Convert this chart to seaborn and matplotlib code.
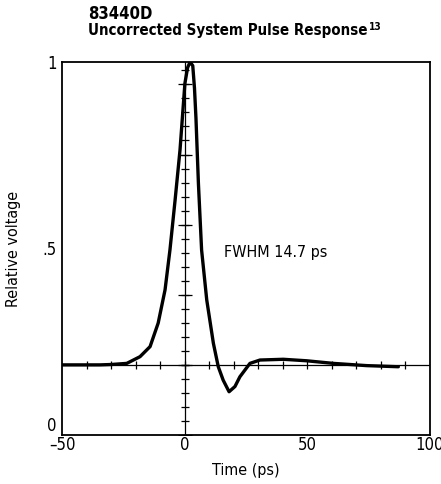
import numpy as np
import pandas as pd
import matplotlib
matplotlib.use("Agg")
import matplotlib.pyplot as plt
from matplotlib import font_manager as fm
import seaborn as sns

# ---- data ----
time_ps = [-50, -40, -34.5, -30, -23.6, -18.2, -14.1, -10.8, -8.0, -6.0, -3.9,
           -1.9, 0.1, 1.2, 2.2, 3.3, 4.0, 4.6, 5.6, 6.9, 9.0, 11.7, 13.7, 15.7,
           18.1, 20.5, 22.5, 26.6, 30.7, 40.2, 49.7, 60.6, 74.2, 87.1]
voltage = [0.188, 0.188, 0.188, 0.189, 0.192, 0.21, 0.237, 0.30, 0.389, 0.496,
           0.630, 0.764, 0.943, 0.985, 1.0, 0.99, 0.93, 0.85, 0.675, 0.496,
           0.362, 0.246, 0.183, 0.147, 0.116, 0.13, 0.156, 0.192, 0.201, 0.203,
           0.199, 0.192, 0.186, 0.183]
baseline = 0.188
x_ticks = [-50, 0, 50, 100]
x_tick_labels = ["\u201350", "0", "50", "100"]
y_ticks = [0, 0.5, 1]
y_tick_labels = ["0", ".5", "1"]
title_line1 = "83440D"
title_line2 = "Uncorrected System Pulse Response"
title_sup = "13"
annotation = "FWHM 14.7 ps"

sns.set_style("white")

# pick a condensed sans if one is installed
names = {f.name for f in fm.fontManager.ttflist}
cond = [f for f in fm.fontManager.ttflist if f.stretch in ("condensed", "semi-condensed")]
stretch = "normal"
if "Liberation Sans Narrow" in names:
    fam = ["Liberation Sans Narrow", "DejaVu Sans"]
elif any(f.name == "DejaVu Sans" for f in cond):
    fam = ["DejaVu Sans"]
    stretch = "condensed"
else:
    fam = ["Liberation Sans", "DejaVu Sans"]
plt.rcParams["font.family"] = fam
plt.rcParams["font.stretch"] = stretch
plt.rcParams["text.color"] = "black"
plt.rcParams["axes.labelcolor"] = "black"
narrow = stretch == "condensed" or fam[0] == "Liberation Sans Narrow"
fs = 11 if narrow else 10
tfs1 = 12 if narrow else 10.5
tfs2 = 10.8 if narrow else 9.5

fig = plt.figure(figsize=(4.41, 4.84), dpi=100)
ax = fig.add_axes([62 / 441, 49 / 484, 368 / 441, 373 / 484])

df = pd.DataFrame({"t": time_ps, "v": voltage})

# crosshair graticule
ax.axhline(baseline, color="black", lw=0.9, zorder=1)
ax.axvline(0, color="black", lw=0.9, zorder=1)
hx = np.arange(-40, 100, 10)
ax.plot(hx, np.full_like(hx, baseline, dtype=float), ls="none", marker="|",
        ms=6, mew=0.9, color="black", zorder=1)
step = baseline / 5
vy = np.concatenate([np.arange(baseline, 1.0, step), np.arange(baseline, 0, -step)])
ax.plot(np.zeros_like(vy), vy, ls="none", marker="_", ms=6, mew=0.9,
        color="black", zorder=1)
vmaj = np.concatenate([np.arange(baseline, 1.0, baseline), [0]])
ax.plot(np.zeros_like(vmaj), vmaj, ls="none", marker="_", ms=10, mew=0.9,
        color="black", zorder=1)

sns.lineplot(data=df, x="t", y="v", ax=ax, color="black", lw=2.4, zorder=3)

ax.set_xlim(-50, 100)
ax.set_ylim(0, 1)
ax.set_xticks(x_ticks)
ax.set_xticklabels(x_tick_labels)
ax.set_yticks(y_ticks)
ax.set_yticklabels(y_tick_labels)
ax.tick_params(direction="in", length=4, width=0.9, labelsize=fs + 1,
               colors="black")
ax.tick_params(axis="x", pad=1)
ax.tick_params(axis="y", pad=4)
ax.get_yticklabels()[0].set_verticalalignment("bottom")
for s in ax.spines.values():
    s.set_color("black")
    s.set_linewidth(1.3)
    s.set_visible(True)

ax.set_xlabel("Time (ps)", fontsize=fs + 0.5, labelpad=6)
ax.set_ylabel("Relative voltage", fontsize=fs + 0.5, labelpad=15)

ax.text(16, 0.49, annotation, fontsize=fs + 0.5, va="center", ha="left")

fig.text(88 / 441, 1 - 14 / 484, title_line1, fontsize=tfs1, fontweight="bold",
         va="center", ha="left")
t2 = fig.text(88 / 441, 1 - 31 / 484, title_line2, fontsize=tfs2,
              fontweight="bold", va="center", ha="left")
fig.canvas.draw()
bb = t2.get_window_extent()
fig.text((bb.x1 + 1) / fig.bbox.width, (bb.y1 - 3) / fig.bbox.height, title_sup,
         fontsize=tfs2 - 3.5, fontweight="bold", va="center", ha="left")

fig.savefig("out.png", dpi=100, facecolor="white")
